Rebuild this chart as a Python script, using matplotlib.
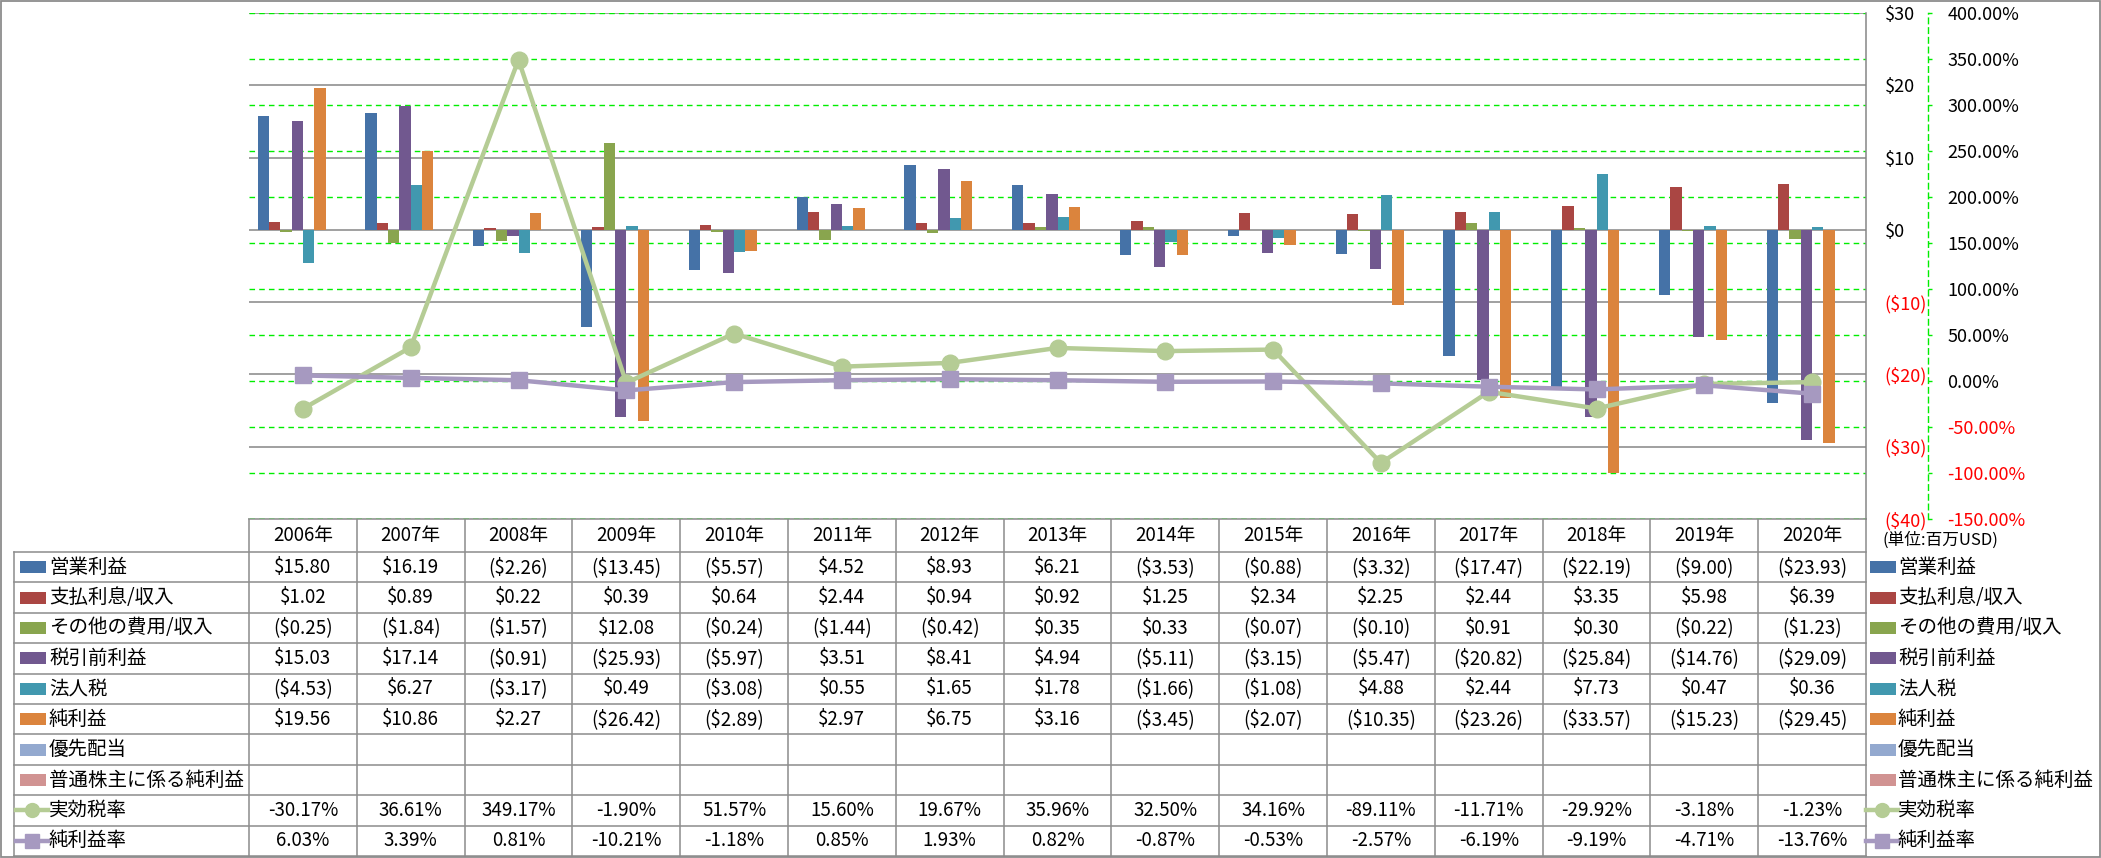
import matplotlib
matplotlib.use("Agg")
import matplotlib.pyplot as plt
import matplotlib.transforms as mtransforms
from matplotlib.patches import Rectangle
import numpy as np

plt.rcParams['font.family'] = ['Noto Sans CJK JP', 'DejaVu Sans']

years = [f"{y}年" for y in range(2006, 2021)]

# 単位: 百万USD
op_income = [15.80, 16.19, -2.26, -13.45, -5.57, 4.52, 8.93, 6.21, -3.53, -0.88, -3.32, -17.47, -22.19, -9.00, -23.93]
interest = [1.02, 0.89, 0.22, 0.39, 0.64, 2.44, 0.94, 0.92, 1.25, 2.34, 2.25, 2.44, 3.35, 5.98, 6.39]
other = [-0.25, -1.84, -1.57, 12.08, -0.24, -1.44, -0.42, 0.35, 0.33, -0.07, -0.10, 0.91, 0.30, -0.22, -1.23]
pretax = [15.03, 17.14, -0.91, -25.93, -5.97, 3.51, 8.41, 4.94, -5.11, -3.15, -5.47, -20.82, -25.84, -14.76, -29.09]
tax = [-4.53, 6.27, -3.17, 0.49, -3.08, 0.55, 1.65, 1.78, -1.66, -1.08, 4.88, 2.44, 7.73, 0.47, 0.36]
net_income = [19.56, 10.86, 2.27, -26.42, -2.89, 2.97, 6.75, 3.16, -3.45, -2.07, -10.35, -23.26, -33.57, -15.23, -29.45]
pref_div = [None] * 15
common_net = [None] * 15
# %
eff_tax_rate = [-30.17, 36.61, 349.17, -1.90, 51.57, 15.60, 19.67, 35.96, 32.50, 34.16, -89.11, -11.71, -29.92, -3.18, -1.23]
net_margin = [6.03, 3.39, 0.81, -10.21, -1.18, 0.85, 1.93, 0.82, -0.87, -0.53, -2.57, -6.19, -9.19, -4.71, -13.76]

bar_names = ["営業利益", "支払利息/収入", "その他の費用/収入", "税引前利益", "法人税", "純利益",
             "優先配当", "普通株主に係る純利益"]
bar_data = [op_income, interest, other, pretax, tax, net_income, pref_div, common_net]
bar_colors = ["#4572A7", "#AA4643", "#89A54E", "#71588F", "#4198AF", "#DB843D", "#93A9CF", "#D19392"]
line_names = ["実効税率", "純利益率"]
line_data = [eff_tax_rate, net_margin]
line_colors = ["#B5CC95", "#A699C0"]
line_markers = ["o", "s"]

W, H = 2101, 858
fig = plt.figure(figsize=(W / 100, H / 100), dpi=100)

# layout in pixels
px_left, px_right = 249, 1866
px_top, px_bottom = 13, 519
row_h = 30.4
head_top, head_bot = 519, 552
tab_left = 14

ax = fig.add_axes([px_left / W, 1 - px_bottom / H, (px_right - px_left) / W, (px_bottom - px_top) / H])
ax2 = ax.twinx()

n = len(years)
x = np.arange(n)
nslots = len(bar_names)
w = 1 / (nslots + 1.5)
for i, (vals, col) in enumerate(zip(bar_data, bar_colors)):
    v = [np.nan if a is None else a for a in vals]
    ax.bar(x - nslots * w / 2 + (i + 0.5) * w, v, width=w, color=col, zorder=2)

ax.set_xlim(-0.5, n - 0.5)
ax.set_ylim(-40, 30)
ax2.set_ylim(-150, 400)

grid_col = "#868686"
for v in range(-40, 31, 10):
    ax.axhline(v, color=grid_col, lw=1.1, zorder=0.5)
trans = mtransforms.blended_transform_factory(ax.transAxes, ax2.transData)
for v in range(-150, 401, 50):
    ax.plot([0, 1], [v, v], transform=trans, color="#00EE00", lw=1.0,
            linestyle=(0, (4, 3)), zorder=0.6)

for vals, col, mk in zip(line_data, line_colors, line_markers):
    ax2.plot(x, vals, color=col, lw=3.2, marker=mk, markersize=12, markerfacecolor=col,
             markeredgecolor=col, zorder=3)

ax.set_xticks([])
for s in ["left", "top", "bottom"]:
    ax.spines[s].set_visible(False)
    ax2.spines[s].set_visible(False)
ax.spines["right"].set_color(grid_col)
ax.spines["right"].set_linewidth(1.1)

# primary axis labels (right side)
p_ticks = list(range(30, -41, -10))
p_labels = [f"${v}" if v >= 0 else f"(${-v})" for v in p_ticks]
ax.yaxis.tick_right()
ax.set_yticks(p_ticks, p_labels)
ax.tick_params(axis="y", length=0, pad=13.5, labelsize=13)
for t, v in zip(ax.get_yticklabels(), p_ticks):
    t.set_color("red" if v < 0 else "black")

# secondary axis
s_ticks = list(range(400, -151, -50))
s_labels = [f"{v:.2f}%" for v in s_ticks]
ax2.set_yticks(s_ticks, s_labels)
ax2.spines["right"].set_position(("outward", 44.6))
ax2.spines["right"].set_color("#00EE00")
ax2.spines["right"].set_linestyle((0, (4, 3)))
ax2.spines["right"].set_linewidth(1.0)
ax2.tick_params(axis="y", length=3, width=1, color="#00EE00", pad=11, labelsize=13)
for t, v in zip(ax2.get_yticklabels(), s_ticks):
    t.set_color("red" if v < 0 else "black")

# overlay for data table, legend and border
ov = fig.add_axes([0, 0, 1, 1], zorder=-1)
ov.set_xlim(0, W)
ov.set_ylim(H, 0)
ov.axis("off")

tcol = "#8C8C8C"
col_w = (px_right - px_left) / n
rows_bottom = head_bot + row_h * 10
# header
ov.plot([px_left, px_right], [head_top, head_top], color=tcol, lw=1.1)
for j in range(n + 1):
    xx = px_left + j * col_w
    ov.plot([xx, xx], [head_top, rows_bottom], color=tcol, lw=1.1)
ov.plot([tab_left, tab_left], [head_bot, rows_bottom], color=tcol, lw=1.1)
for k in range(11):
    yy = head_bot + k * row_h
    ov.plot([tab_left, px_right], [yy, yy], color=tcol, lw=1.1)
for j, yl in enumerate(years):
    ov.text(px_left + (j + 0.5) * col_w, (head_top + head_bot) / 2, yl, ha="center", va="center", fontsize=13.5)


def fmt_money(v):
    if v is None:
        return ""
    return f"${v:.2f}" if v >= 0 else f"(${-v:.2f})"


all_names = bar_names + line_names
all_rows = [[fmt_money(v) for v in d] for d in bar_data] + \
           [[f"{v:.2f}%" for v in d] for d in line_data]

for k, (name, row) in enumerate(zip(all_names, all_rows)):
    yc = head_bot + (k + 0.5) * row_h
    for j, s in enumerate(row):
        ov.text(px_left + (j + 0.5) * col_w, yc, s, ha="center", va="center", fontsize=13.5)
    for kx, tx in [(20, 49), (1870, 1898)]:
        if k < len(bar_names):
            ov.add_patch(Rectangle((kx, yc - 6), 26, 12, color=bar_colors[k], lw=0))
        else:
            li = k - len(bar_names)
            ov.plot([kx - 4, kx + 28], [yc, yc], color=line_colors[li], lw=3.2)
            ov.plot([kx + 12], [yc], marker=line_markers[li], markersize=10,
                    color=line_colors[li])
        ov.text(tx, yc, name, ha="left", va="center", fontsize=14)

ov.text(1882, 540, "(単位:百万USD)", ha="left", va="center", fontsize=12)
ov.add_patch(Rectangle((0.5, 0.5), W - 1.5, H - 1.5, fill=False, edgecolor=tcol, lw=1.3))

fig.savefig("out.png", dpi=100)
